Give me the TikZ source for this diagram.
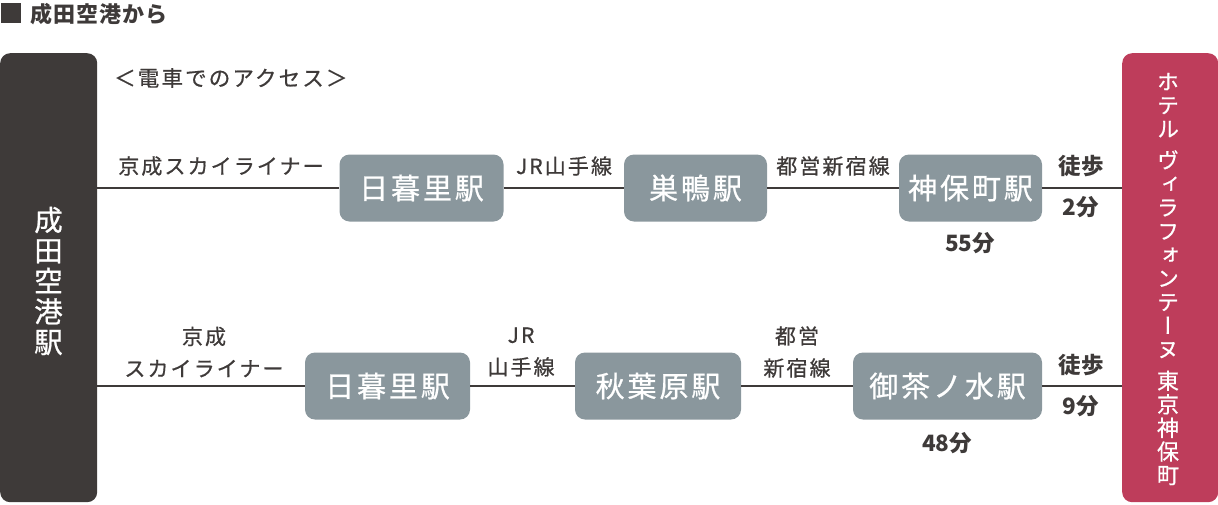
\documentclass[tikz,border=0pt]{standalone}
\usepackage{fontspec}
\setmainfont{Noto Sans CJK JP}
\newfontfamily\jpls[LetterSpace=10,FakeBold=0.7]{Noto Sans CJK JP}
\newfontfamily\jpmed[FakeBold=0.8]{Noto Sans CJK JP}
\newfontfamily\jpvert[RawFeature=+vert,FakeBold=0.6]{Noto Sans CJK JP}
\definecolor{ink}{HTML}{3E3A39}
\definecolor{wine}{HTML}{BE3D5B}
\definecolor{stone}{HTML}{8A979D}
\tikzset{
  sidebox/.style={rounded corners=10pt, inner sep=0pt, minimum width=96pt, minimum height=449pt, anchor=north west},
  stationbox/.style={fill=stone, rounded corners=10pt, text=white, inner sep=0pt, minimum height=67pt,
    font=\fontsize{29}{32}\selectfont\jpls},
  rail/.style={draw=ink, line width=2pt},
  lbl/.style={text=ink, inner sep=0pt, align=center, font=\fontsize{21}{32}\selectfont\jpls},
  boldlbl/.style={text=ink, inner sep=0pt, align=center, font=\fontsize{22.5}{24}\selectfont\bfseries},
  vtext/.style={text=white, inner sep=0pt, align=center},
}
\begin{document}
\begin{tikzpicture}[x=1pt,y=-1pt]
\useasboundingbox (0,0) rectangle (1218,504);
% title
\node[fill=ink, inner sep=0pt, minimum size=20pt] (sq) at (11,13) {};
\node[anchor=west, inner sep=0pt, text=ink, font=\fontsize{22}{24}\selectfont\bfseries\addfontfeature{LetterSpace=5}] (title) at (30,14) {成田空港から};
\node[anchor=west, inner sep=0pt, text=ink, font=\fontsize{21.5}{24}\selectfont\jpls] (sub) at (114,78) {＜電車でのアクセス＞};
% side boxes
\node[sidebox, fill=ink, minimum width=97pt] (narita) at (0,53) {};
\node[vtext, font=\fontsize{28.5}{30.5}\selectfont\jpmed] (naritatxt) at (48.5,281) {成\\田\\空\\港\\駅};
\node[sidebox, fill=wine] (hotel) at (1122,53) {};
\node[vtext, font=\fontsize{22}{23.6}\selectfont\jpvert] (hoteltxt) at (1168,279)
  {ホ\\テ\\ル\\[8pt]ヴ\\ィ\\ラ\\フ\\ォ\\ン\\テ\\ー\\ヌ\\[8pt]東\\京\\神\\保\\町};
% top route
\node[stationbox, minimum width=164pt] (t1) at (421.5,188) {日暮里駅};
\node[stationbox, minimum width=143pt] (t2) at (695.5,188) {巣鴨駅};
\node[stationbox, minimum width=143pt] (t3) at (970.5,188) {神保町駅};
\draw[rail] (narita.east |- t1) -- (t1);
\draw[rail] (t1) -- (t2);
\draw[rail] (t2) -- (t3);
\draw[rail] (t3) -- (hotel.west |- t3);
\node[lbl] (l1) at (221,166) {京成スカイライナー};
\node[lbl] (l2) at (564,166) {JR山手線};
\node[lbl] (l3) at (833,166) {都営新宿線};
\node[boldlbl] (w1) at (1081,166) {徒歩};
\node[boldlbl] (m1) at (1081,207) {2分};
\node[boldlbl] (d1) at (970,243) {55分};
% bottom route
\node[stationbox, minimum width=165pt] (b1) at (387.5,386) {日暮里駅};
\node[stationbox, minimum width=166pt] (b2) at (658,386) {秋葉原駅};
\node[stationbox, minimum width=189pt] (b3) at (947.5,386) {御茶ノ水駅};
\draw[rail] (narita.east |- b1) -- (b1);
\draw[rail] (b1) -- (b2);
\draw[rail] (b2) -- (b3);
\draw[rail] (b3) -- (hotel.west |- b3);
\node[lbl] (l4) at (204,352) {京成\\スカイライナー};
\node[lbl] (l5) at (521,352) {JR\\山手線};
\node[lbl] (l6) at (797,352) {都営\\新宿線};
\node[boldlbl] (w2) at (1081,365) {徒歩};
\node[boldlbl] (m2) at (1081,406) {9分};
\node[boldlbl] (d2) at (947,443) {48分};
\end{tikzpicture}
\end{document}
